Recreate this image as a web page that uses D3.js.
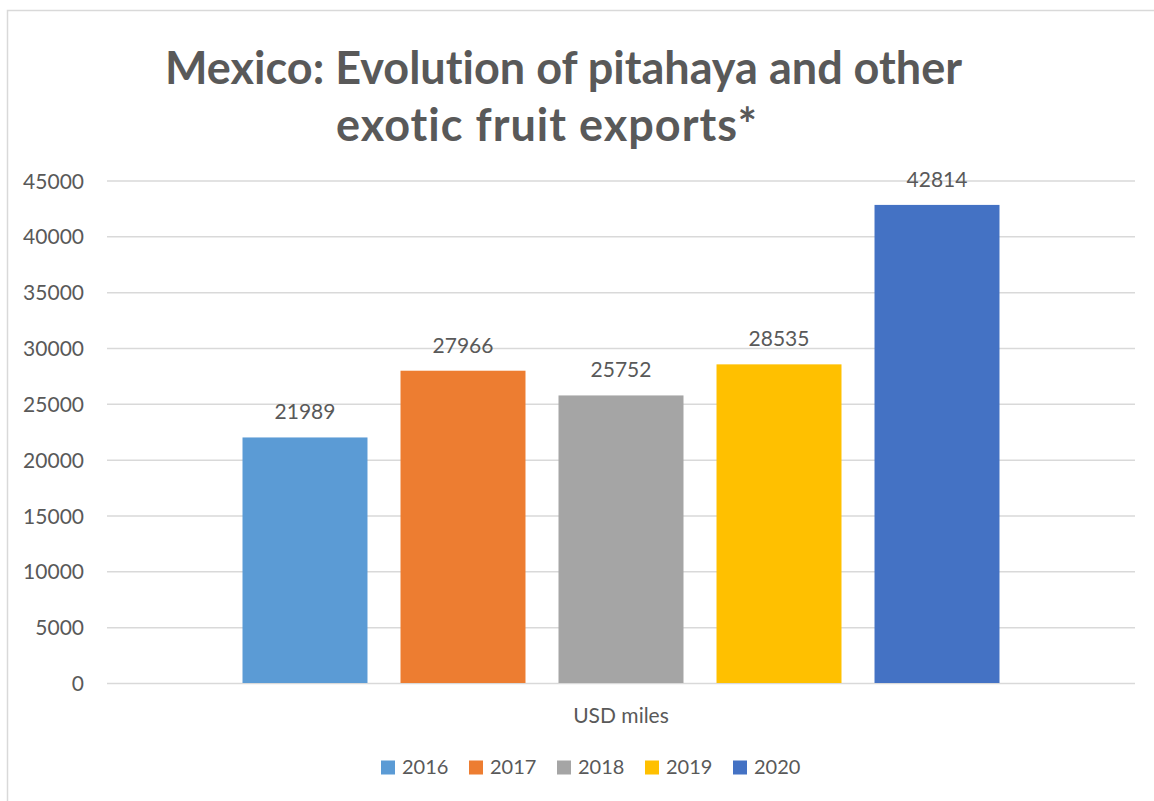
<!DOCTYPE html>
<html>
<head>
<meta charset="utf-8">
<script src="https://cdn.jsdelivr.net/npm/d3@7"></script>
<style>
  html, body { margin: 0; padding: 0; background: #ffffff; }
  svg { display: block; }
  text { font-family: Lato, "Open Sans", sans-serif; fill: #595959; font-variant-ligatures: none; }
</style>
</head>
<body>
<svg id="chart" width="1154" height="801"></svg>
<script>
// Export values (USD thousands) by year
const years = ["2016", "2017", "2018", "2019", "2020"];
const values = [21989, 27966, 25752, 28535, 42814];
const colors = ["#5b9bd5", "#ed7d31", "#a5a5a5", "#ffc000", "#4472c4"];
const category = ["USD miles"];
const yTicks = [0, 5000, 10000, 15000, 20000, 25000, 30000, 35000, 40000, 45000];
const titleLines = ["Mexico: Evolution of pitahaya and other", "exotic fruit exports*"];

const svg = d3.select("#chart");

// chart area frame
svg.append("rect")
  .attr("x", 7.5).attr("y", 10.5)
  .attr("width", 1160).attr("height", 800)
  .attr("fill", "#ffffff")
  .attr("stroke", "#d9d9d9").attr("stroke-width", 1.5);

const plot = { left: 107, right: 1135, top: 180.5, bottom: 683 };

const y = d3.scaleLinear().domain([0, 45000]).range([plot.bottom, plot.top]);

const x0 = d3.scaleBand().domain(category)
  .range([plot.left, plot.right])
  .paddingInner(0).paddingOuter(0.179);

const x1 = d3.scaleBand().domain(years)
  .range([0, x0.bandwidth()])
  .paddingInner(0.209).paddingOuter(0);

// gridlines
const yAxis = d3.axisLeft(y).tickValues(yTicks)
  .tickSize(-(plot.right - plot.left)).tickPadding(23)
  .tickFormat(d3.format("d"));

const gy = svg.append("g")
  .attr("transform", `translate(${plot.left},0)`)
  .call(yAxis);
gy.select(".domain").remove();
gy.selectAll(".tick line").attr("stroke", "#d9d9d9").attr("stroke-width", 1.5);
gy.selectAll(".tick text")
  .attr("font-size", 21)
  .attr("dy", "0.36em")
  .style("fill", "#595959")
  .style("font-family", "Lato, 'Open Sans', sans-serif");

// bars
const group = svg.append("g")
  .attr("transform", `translate(${x0(category[0])},0)`);

const data = years.map((yr, i) => ({ year: yr, value: values[i], color: colors[i] }));

group.selectAll("rect.bar")
  .data(data).enter().append("rect")
  .attr("class", "bar")
  .attr("x", d => x1(d.year))
  .attr("y", d => y(d.value))
  .attr("width", x1.bandwidth())
  .attr("height", d => y(0) - y(d.value))
  .attr("fill", d => d.color);

// value labels
group.selectAll("text.val")
  .data(data).enter().append("text")
  .attr("class", "val")
  .attr("x", d => x1(d.year) + x1.bandwidth() / 2)
  .attr("y", d => y(d.value) - 18)
  .attr("text-anchor", "middle")
  .attr("font-size", 21)
  .text(d => d.value);

// category label
svg.append("text")
  .attr("x", x0(category[0]) + x0.bandwidth() / 2)
  .attr("y", 723)
  .attr("text-anchor", "middle")
  .attr("font-size", 21)
  .text(category[0]);

// title, two centred lines stretched to their set widths
const titleCenters = [563.5, 546.5];
const titleWidths = [797, 421];
const titleBaselines = [84, 141];
svg.selectAll("text.title")
  .data(titleLines).enter().append("text")
  .attr("class", "title")
  .attr("x", (d, i) => titleCenters[i])
  .attr("y", (d, i) => titleBaselines[i])
  .attr("text-anchor", "middle")
  .attr("font-weight", "bold")
  .attr("font-size", 45)
  .attr("textLength", (d, i) => titleWidths[i])
  .attr("lengthAdjust", "spacing")
  .text(d => d);

// legend
const legend = svg.append("g");
const legendItems = legend.selectAll("g.item")
  .data(data).enter().append("g")
  .attr("class", "item")
  .attr("transform", (d, i) => `translate(${381 + i * 88},0)`);
legendItems.append("rect")
  .attr("x", 0).attr("y", 760.5)
  .attr("width", 14).attr("height", 14)
  .attr("fill", d => d.color);
legendItems.append("text")
  .attr("x", 21).attr("y", 774)
  .attr("font-size", 20)
  .text(d => d.year);
</script>
</body>
</html>
